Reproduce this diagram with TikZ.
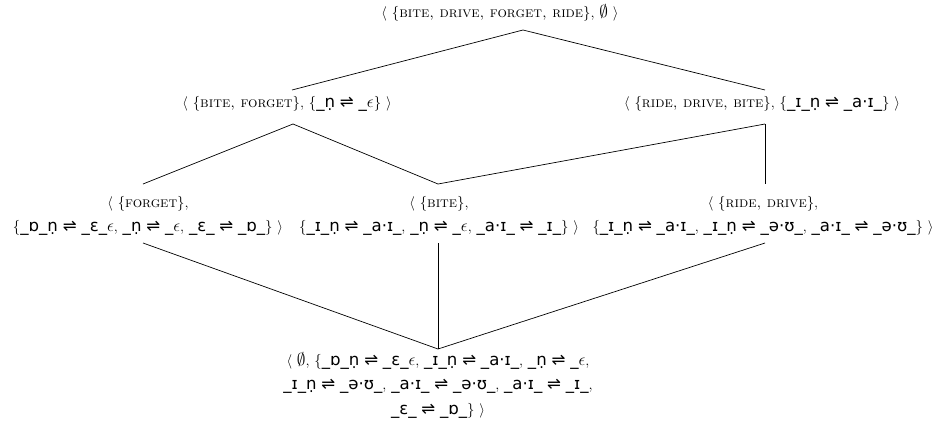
\documentclass[tikz,border=0pt]{standalone}
\usepackage{fontspec}
\newfontfamily\ipafont[Scale=1.12]{DejaVu Sans}
\newcommand\ip[1]{{\ipafont #1}}
\newcommand\rl{\ip{⇌}}
\newcommand\la{$\langle$}
\newcommand\ra{$\rangle$}
\newcommand\ep{{\fontsize{17}{20}\selectfont$\epsilon$}}
\newcommand\es{{\fontsize{16.5}{20}\selectfont$\emptyset$}}
\begin{document}
\begin{tikzpicture}[x=1pt,y=-1pt,
  lbl/.style={inner sep=0pt, align=center, font=\fontsize{14.8}{24.5}\selectfont},
  link/.style={draw=black, line width=0.7pt}]
\useasboundingbox (0,0) rectangle (937,432);
\node[lbl] (top) at (500,13) {\la\ \{\textsc{bite, drive, forget, ride}\}, \es\ \ra};
\node[lbl] (l2a) at (287,104) {\la\ \{\textsc{bite, forget}\}, \{\ip{\_ṇ} \rl\ \ip{\_}\ep\}\ \ra};
\node[lbl] (l2b) at (762,104) {\la\ \{\textsc{ride, drive, bite}\}, \{\ip{\_ɪ\_ṇ} \rl\ \ip{\_a·ɪ\_}\}\ \ra};
\node[lbl] (l3a) at (148,216) {\la\ \{\textsc{forget}\},\\ \{\ip{\_ɒ\_ṇ} \rl\ \ip{\_ɛ\_}\ep, \ip{\_ṇ} \rl\ \ip{\_}\ep, \ip{\_ɛ\_} \rl\ \ip{\_ɒ\_}\}\ \ra};
\node[lbl] (l3b) at (439,216) {\la\ \{\textsc{bite}\},\\ \{\ip{\_ɪ\_ṇ} \rl\ \ip{\_a·ɪ\_}, \ip{\_ṇ} \rl\ \ip{\_}\ep, \ip{\_a·ɪ\_} \rl\ \ip{\_ɪ\_}\}\ \ra};
\node[lbl] (l3c) at (763,216) {\la\ \{\textsc{ride, drive}\},\\ \{\ip{\_ɪ\_ṇ} \rl\ \ip{\_a·ɪ\_}, \ip{\_ɪ\_ṇ} \rl\ \ip{\_ə·ʊ\_}, \ip{\_a·ɪ\_} \rl\ \ip{\_ə·ʊ\_}\}\ \ra};
\node[lbl] (bot) at (438,385) {\la\ \es, \{\ip{\_ɒ\_ṇ} \rl\ \ip{\_ɛ\_}\ep, \ip{\_ɪ\_ṇ} \rl\ \ip{\_a·ɪ\_}, \ip{\_ṇ} \rl\ \ip{\_}\ep,\\ \ip{\_ɪ\_ṇ} \rl\ \ip{\_ə·ʊ\_}, \ip{\_a·ɪ\_} \rl\ \ip{\_ə·ʊ\_}, \ip{\_a·ɪ\_} \rl\ \ip{\_ɪ\_},\\ \ip{\_ɛ\_} \rl\ \ip{\_ɒ\_}\}\ \ra};
% connection points
\coordinate (pt) at (523,30);
\coordinate (pa1) at (292,90);
\coordinate (pa2) at (293,124);
\coordinate (pb1) at (765,90);
\coordinate (pb2) at (765,124);
\coordinate (pc1) at (143,184);
\coordinate (pc2) at (143,243);
\coordinate (pd1) at (438,184);
\coordinate (pd2) at (438,243);
\coordinate (pe1) at (765,184);
\coordinate (pe2) at (765,243);
\coordinate (pf) at (438,349);
\draw[link] (pt) -- (pa1);
\draw[link] (pt) -- (pb1);
\draw[link] (pa2) -- (pc1);
\draw[link] (pa2) -- (pd1);
\draw[link] (pb2) -- (pd1);
\draw[link] (pb2) -- (pe1);
\draw[link] (pc2) -- (pf);
\draw[link] (pd2) -- (pf);
\draw[link] (pe2) -- (pf);
\end{tikzpicture}
\end{document}
